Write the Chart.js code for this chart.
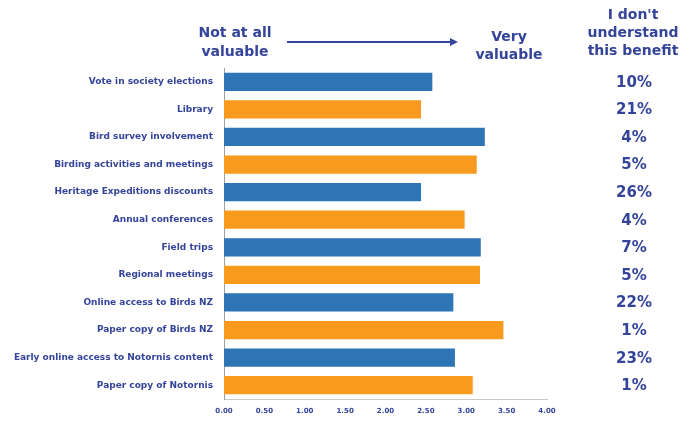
<!DOCTYPE html>
<html>
<head>
<meta charset="utf-8">
<script src="https://cdn.jsdelivr.net/npm/chart.js@4/dist/chart.umd.min.js"></script>
<style>
  html, body { margin: 0; padding: 0; background: #fff; }
  #wrap { width: 692px; height: 421px; position: relative; }
</style>
</head>
<body>
<div id="wrap"><canvas id="benefitChart"></canvas></div>
<script>
// survey benefits, mean rating 0-4
var benefits = [
    'Vote in society elections',
    'Library',
    'Bird survey involvement',
    'Birding activities and meetings',
    'Heritage Expeditions discounts',
    'Annual conferences',
    'Field trips',
    'Regional meetings',
    'Online access to Birds NZ',
    'Paper copy of Birds NZ',
    'Early online access to Notornis content',
    'Paper copy of Notornis'
];
var ratings = [2.58, 2.44, 3.23, 3.13, 2.44, 2.98, 3.18, 3.17, 2.84, 3.46, 2.86, 3.08];
var dontUnderstand = ['10%', '21%', '4%', '5%', '26%', '4%', '7%', '5%', '22%', '1%', '23%', '1%'];
var xTicks = [0, 0.5, 1, 1.5, 2, 2.5, 3, 3.5, 4];

var navy = '#34449a';
var blue = '#2e75b6';
var orange = '#f79a1e';
var fontFam = '"DejaVu Sans", Verdana, sans-serif';

var barColors = [];
for (var i = 0; i < ratings.length; i++) {
    barColors.push(i % 2 == 0 ? blue : orange);
}

// header text + the percentage column on the right
var extraText = {
    id: 'extraText',
    afterDraw: function(chart) {
        var ctx = chart.ctx;
        var yScale = chart.scales.y;
        ctx.save();
        ctx.fillStyle = navy;
        ctx.textAlign = 'center';
        ctx.textBaseline = 'middle';

        ctx.font = 'bold 14px ' + fontFam;
        ctx.fillText('Not at all', 235, 33);
        ctx.fillText('valuable', 235, 52);
        ctx.fillText('Very', 509, 37);
        ctx.fillText('valuable', 509, 55);
        ctx.fillText("I don't", 633, 15);
        ctx.fillText('understand', 633, 33);
        ctx.fillText('this benefit', 633, 51);

        // arrow
        ctx.strokeStyle = navy;
        ctx.lineWidth = 2;
        ctx.beginPath();
        ctx.moveTo(287, 42);
        ctx.lineTo(452, 42);
        ctx.stroke();
        ctx.beginPath();
        ctx.moveTo(458, 42);
        ctx.lineTo(450, 38);
        ctx.lineTo(450, 46);
        ctx.closePath();
        ctx.fill();

        ctx.font = 'bold 15px ' + fontFam;
        for (var i = 0; i < dontUnderstand.length; i++) {
            ctx.fillText(dontUnderstand[i], 634, yScale.getPixelForValue(i) + 1);
        }
        ctx.restore();
    }
};

var ctx = document.getElementById('benefitChart').getContext('2d');
var chart = new Chart(ctx, {
    type: 'bar',
    data: {
        labels: benefits,
        datasets: [{
            data: ratings,
            backgroundColor: barColors,
            categoryPercentage: 0.66,
            barPercentage: 1.0
        }]
    },
    options: {
        indexAxis: 'y',
        responsive: true,
        maintainAspectRatio: false,
        animation: false,
        layout: {
            padding: { top: 68, right: 145, bottom: 0, left: 0 }
        },
        plugins: {
            legend: { display: false },
            tooltip: { enabled: false }
        },
        scales: {
            x: {
                min: 0,
                max: 4,
                afterBuildTicks: function(scale) {
                    scale.ticks = xTicks.map(function(v) { return { value: v }; });
                },
                afterFit: function(scale) { scale.height = 22; },
                grid: { display: false, drawTicks: true, tickLength: 3, color: '#c8c8c8' },
                border: { display: true, color: '#c8c8c8', width: 1 },
                ticks: {
                    color: navy,
                    padding: 5,
                    maxRotation: 0,
                    font: { family: fontFam, size: 7, weight: 'bold' },
                    callback: function(v) { return Number(v).toFixed(2); }
                }
            },
            y: {
                afterFit: function(scale) { scale.width = 224; },
                grid: { display: false, drawTicks: false },
                border: { display: true, color: '#9aa0a8', width: 1 },
                ticks: {
                    color: navy,
                    padding: 11,
                    autoSkip: false,
                    font: { family: fontFam, size: 9, weight: 'bold' }
                }
            }
        }
    },
    plugins: [extraText]
});
</script>
</body>
</html>
